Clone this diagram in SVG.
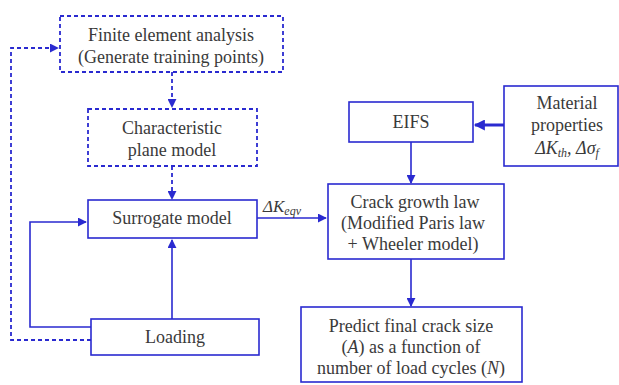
<svg xmlns="http://www.w3.org/2000/svg" width="619" height="385" viewBox="0 0 619 385" font-family="Liberation Serif, serif" font-size="18">
<style>
.box{fill:#fff;stroke:#2a2ad0;stroke-width:1.6}
.dbox{fill:#fff;stroke:#2a2ad0;stroke-width:1.8;stroke-dasharray:4 3}
.ln{fill:none;stroke:#2a2ad0;stroke-width:1.6}
.dln{fill:none;stroke:#2a2ad0;stroke-width:1.8;stroke-dasharray:4 3}
text{fill:#3a3a3a;text-anchor:middle}
.it{font-style:italic}
</style>
<defs>
<marker id="ahb" viewBox="0 0 10 10" refX="9" refY="5" markerWidth="9" markerHeight="9" orient="auto" markerUnits="userSpaceOnUse">
<path d="M0,0L10,5L0,10z" fill="#2a2ad0"/>
</marker>
<marker id="ahw" viewBox="0 0 10 10" refX="9" refY="5" markerWidth="12" markerHeight="11" orient="auto" markerUnits="userSpaceOnUse">
<path d="M0,0L10,5L0,10z" fill="#2a2ad0"/>
</marker>
</defs>
<g id="connectors">
<path class="dln" d="M172,72V107" marker-end="url(#ahb)"/>
<path class="dln" d="M172,166V199" marker-end="url(#ahb)"/>
<path class="dln" d="M91,340H11V48H58" marker-end="url(#ahb)"/>
<path class="ln" d="M91,327H30V222H86" marker-end="url(#ahb)"/>
<path class="ln" d="M172,319V240" marker-end="url(#ahb)"/>
<path class="ln" d="M257,218H326" marker-end="url(#ahb)"/>
<path fill="none" stroke="#2a2ad0" stroke-width="3" d="M504,125H475" marker-end="url(#ahw)"/>
<path class="ln" d="M411,142V183" marker-end="url(#ahb)"/>
<path class="ln" d="M411,259V306" marker-end="url(#ahb)"/>
<text x="263" y="212" class="it" font-size="17" style="text-anchor:start">ΔK<tspan font-size="12" dy="3">eqv</tspan></text>
</g>
<g id="fea">
<rect class="dbox" x="60" y="16" width="223" height="56"/>
<text x="171" y="41">Finite element analysis</text>
<text x="171" y="63">(Generate training points)</text>
</g>
<g id="cpm">
<rect class="dbox" x="88" y="109" width="169" height="57"/>
<text x="172" y="134">Characteristic</text>
<text x="172" y="156">plane model</text>
</g>
<g id="surrogate">
<rect class="box" x="88" y="200" width="169" height="38"/>
<text x="172" y="224">Surrogate model</text>
</g>
<g id="loading">
<rect class="box" x="91" y="319" width="168" height="36"/>
<text x="175" y="343">Loading</text>
</g>
<g id="eifs">
<rect class="box" x="349" y="102" width="124" height="40"/>
<text x="411" y="128">EIFS</text>
</g>
<g id="material">
<rect class="box" x="504" y="86" width="114" height="80"/>
<text x="567" y="109">Material</text>
<text x="567" y="131">properties</text>
<text x="567" y="154" class="it">ΔK<tspan font-size="12" dy="3">th</tspan><tspan dy="-3">, Δσ</tspan><tspan font-size="12" dy="3">f</tspan></text>
</g>
<g id="crack">
<rect class="box" x="328" y="184" width="176" height="75"/>
<text x="415" y="208">Crack growth law</text>
<text x="413" y="229">(Modified Paris law</text>
<text x="413" y="250">+ Wheeler model)</text>
</g>
<g id="predict">
<rect class="box" x="301" y="307" width="221" height="75"/>
<text x="411" y="332">Predict final crack size</text>
<text x="411" y="353">(<tspan class="it">A</tspan>) as a function of</text>
<text x="411" y="374">number of load cycles (<tspan class="it">N</tspan>)</text>
</g>
</svg>
